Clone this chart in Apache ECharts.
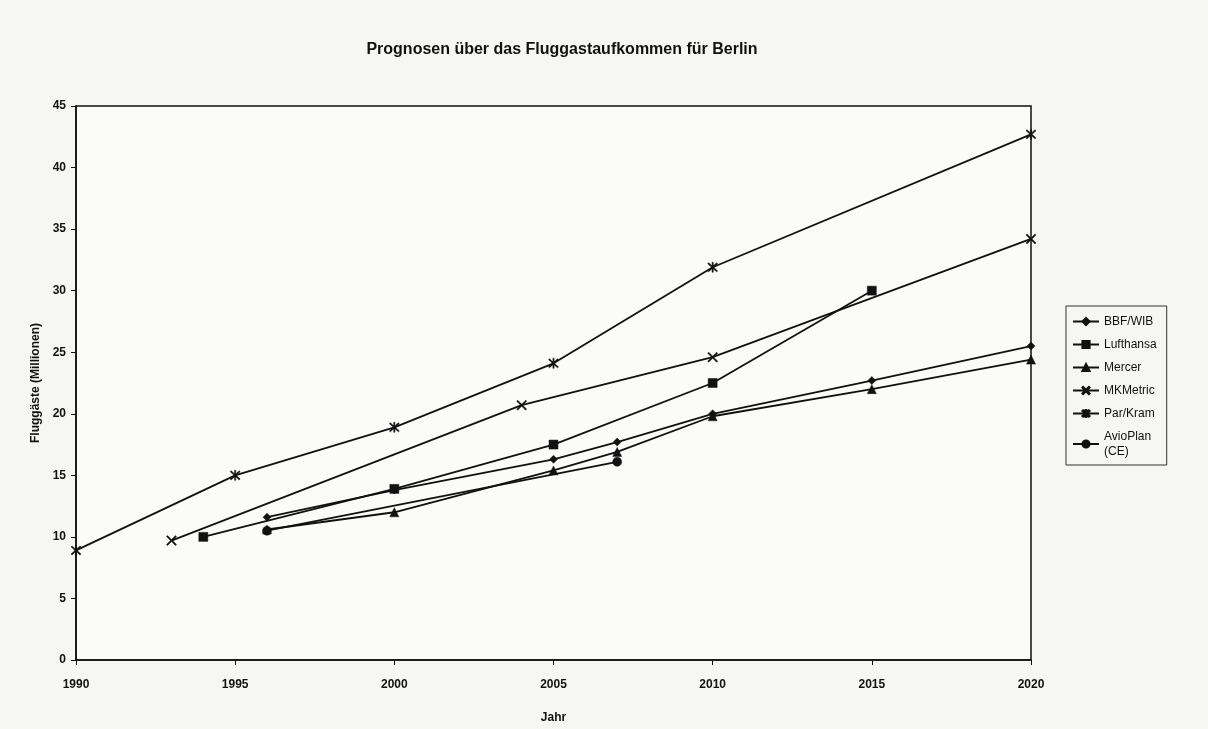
<!DOCTYPE html>
<html>
<head>
<meta charset="utf-8">
<script src="https://cdn.jsdelivr.net/npm/echarts@6/dist/echarts.min.js"></script>
<style>
html,body{margin:0;padding:0;background:#f6f6f4;}
#c{width:1208px;height:729px;}
</style>
</head>
<body>
<div id="c"></div>
<script>
const xTicks = [1990, 1995, 2000, 2005, 2010, 2015, 2020];
const yTicks = [0, 5, 10, 15, 20, 25, 30, 35, 40, 45];

const bbfYears = [1996, 2000, 2005, 2007, 2010, 2015, 2020];
const bbfValues = [11.6, 13.8, 16.3, 17.7, 20.0, 22.7, 25.5];

const lufthansaYears = [1994, 2000, 2005, 2010, 2015];
const lufthansaValues = [10.0, 13.9, 17.5, 22.5, 30.0];

const mercerYears = [1996, 2000, 2005, 2007, 2010, 2015, 2020];
const mercerValues = [10.6, 12.0, 15.4, 16.9, 19.8, 22.0, 24.4];

const mkmetricYears = [1993, 2004, 2010, 2020];
const mkmetricValues = [9.7, 20.7, 24.6, 34.2];

const parkramYears = [1990, 1995, 2000, 2005, 2010, 2020];
const parkramValues = [8.9, 15.0, 18.9, 24.1, 31.9, 42.7];

const avioYears = [1996, 2007];
const avioValues = [10.5, 16.1];

const seriesNames = ['BBF/WIB', 'Lufthansa', 'Mercer', 'MKMetric', 'Par/Kram', 'AvioPlan (CE)'];

function zip(xs, ys) { return xs.map((x, i) => [x, ys[i]]); }

const xSym = 'path://M1,0L5,4L9,0L10,1L6,5L10,9L9,10L5,6L1,10L0,9L4,5L0,1Z';
const starSym = 'path://M1,0L5,4L9,0L10,1L6,5L10,9L9,10L5,6L1,10L0,9L4,5L0,1Z M4.4,-0.5L5.6,-0.5L5.6,10.5L4.4,10.5Z';

const defs = [
  {data: zip(bbfYears, bbfValues), symbol: 'diamond', size: 8},
  {data: zip(lufthansaYears, lufthansaValues), symbol: 'rect', size: 9},
  {data: zip(mercerYears, mercerValues), symbol: 'triangle', size: 9},
  {data: zip(mkmetricYears, mkmetricValues), symbol: xSym, size: 10},
  {data: zip(parkramYears, parkramValues), symbol: starSym, size: 10},
  {data: zip(avioYears, avioValues), symbol: 'circle', size: 9}
];

const chart = echarts.init(document.getElementById('c'));
const font = '"Liberation Sans", Arial, sans-serif';
chart.setOption({
  backgroundColor: '#f6f6f4',
  animation: false,
  title: {
    text: 'Prognosen über das Fluggastaufkommen für Berlin',
    left: 557, top: 37, textAlign: 'center',
    textStyle: {fontFamily: font, fontSize: 16, fontWeight: 'bold', color: '#111'}
  },
  grid: {left: 76, right: 177, top: 106, bottom: 67, show: true, borderColor: '#111', borderWidth: 1.5, backgroundColor: '#fbfbfa'},
  legend: {
    orient: 'vertical', left: 1066, top: 306,
    data: seriesNames,
    borderColor: '#333', borderWidth: 1, padding: [8, 10, 6, 6],
    itemGap: 8, itemWidth: 26, itemHeight: 9,
    textStyle: {fontFamily: font, fontSize: 12, color: '#111', lineHeight: 15},
    formatter: n => n.replace(' (', '\n(')
  },
  xAxis: {
    type: 'value', min: 1990, max: 2020, interval: 5,
    name: 'Jahr', nameLocation: 'middle', nameGap: 52,
    nameTextStyle: {fontFamily: font, fontSize: 12, fontWeight: 'bold', color: '#111'},
    axisLine: {lineStyle: {color: '#111', width: 1.5}},
    axisTick: {length: 5, lineStyle: {color: '#111'}},
    axisLabel: {fontFamily: font, fontSize: 12, fontWeight: 'bold', color: '#111', margin: 19,
      formatter: v => xTicks.includes(v) ? String(v) : ''},
    splitLine: {show: false}
  },
  yAxis: {
    type: 'value', min: 0, max: 45, interval: 5,
    name: 'Fluggäste (Millionen)', nameLocation: 'middle', nameGap: 28,
    nameTextStyle: {fontFamily: font, fontSize: 12, fontWeight: 'bold', color: '#111'},
    axisLine: {show: true, lineStyle: {color: '#111', width: 1.5}},
    axisTick: {show: true, length: 5, lineStyle: {color: '#111'}},
    axisLabel: {fontFamily: font, fontSize: 12, fontWeight: 'bold', color: '#111', margin: 10,
      formatter: v => yTicks.includes(v) ? String(v) : ''},
    splitLine: {show: false}
  },
  series: defs.map((d, i) => ({
    name: seriesNames[i],
    type: 'line',
    data: d.data,
    symbol: d.symbol,
    symbolSize: d.size,
    showAllSymbol: true,
    lineStyle: {color: '#111', width: 1.8},
    itemStyle: {color: '#111', borderColor: '#111', borderWidth: 0.5},
    emphasis: {disabled: true}
  }))
});
</script>
</body>
</html>
